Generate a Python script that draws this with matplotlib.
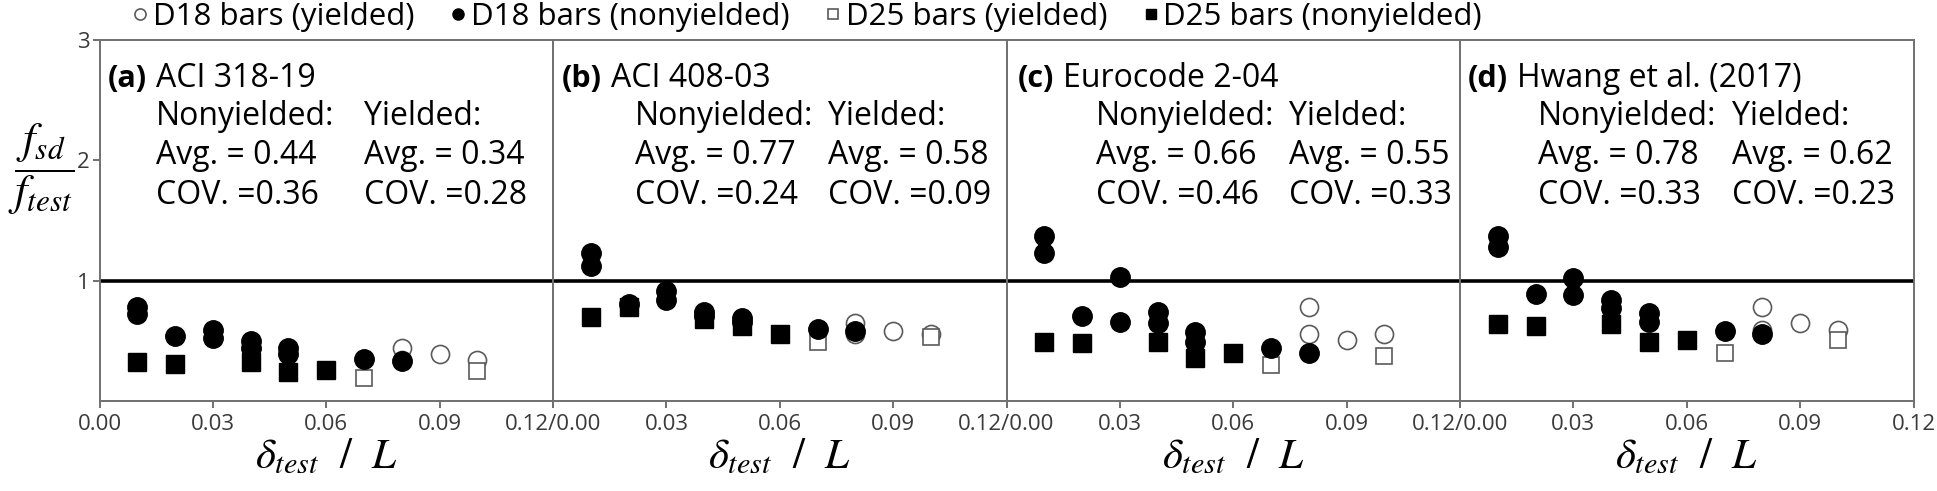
import matplotlib
matplotlib.use("Agg")
import matplotlib.pyplot as plt
from matplotlib.lines import Line2D

plt.rcParams['font.family'] = ['Open Sans', 'DejaVu Sans']
plt.rcParams['mathtext.fontset'] = 'stix'

# panel texts
tags = ['(a)', '(b)', '(c)', '(d)']
codes = ['ACI 318-19', 'ACI 408-03', 'Eurocode 2-04', 'Hwang et al. (2017)']
avg_non = ['0.44', '0.77', '0.66', '0.78']
cov_non = ['0.36', '0.24', '0.46', '0.33']
avg_yld = ['0.34', '0.58', '0.55', '0.62']
cov_yld = ['0.28', '0.09', '0.33', '0.23']

# x positions (drift ratio) of each group, same in every panel
x_d18_non = [0.01, 0.01, 0.02, 0.03, 0.03, 0.04, 0.04, 0.05, 0.05, 0.07, 0.08]
x_d25_non = [0.01, 0.02, 0.04, 0.05, 0.06]
x_d18_yld = [0.08, 0.08, 0.09, 0.10]
x_d25_yld = [0.07, 0.10]

# f_sd / f_test, one list per panel
y_d18_non = [
    [0.78, 0.72, 0.54, 0.59, 0.52, 0.50, 0.44, 0.44, 0.39, 0.35, 0.33],
    [1.23, 1.12, 0.81, 0.91, 0.84, 0.74, 0.71, 0.69, 0.66, 0.60, 0.58],
    [1.37, 1.23, 0.71, 1.03, 0.66, 0.74, 0.65, 0.57, 0.49, 0.44, 0.40],
    [1.37, 1.28, 0.89, 1.02, 0.88, 0.84, 0.77, 0.73, 0.66, 0.58, 0.56],
]
y_d25_non = [
    [0.32, 0.31, 0.32, 0.24, 0.26],
    [0.70, 0.78, 0.68, 0.62, 0.56],
    [0.49, 0.48, 0.49, 0.36, 0.40],
    [0.64, 0.62, 0.64, 0.49, 0.51],
]
y_d18_yld = [
    [0.44, 0.34, 0.39, 0.34],
    [0.65, 0.56, 0.58, 0.56],
    [0.78, 0.56, 0.51, 0.56],
    [0.78, 0.59, 0.65, 0.59],
]
y_d25_yld = [
    [0.19, 0.25],
    [0.49, 0.53],
    [0.30, 0.37],
    [0.40, 0.51],
]

# x of the text columns in axes fraction: tag, code, nonyielded, yielded
text_x = [
    (0.018, 0.124, 0.124, 0.584),
    (0.020, 0.128, 0.180, 0.606),
    (0.025, 0.124, 0.197, 0.622),
    (0.018, 0.126, 0.172, 0.600),
]
# baselines of the four text lines (axes fraction)
line_y = [0.870, 0.765, 0.657, 0.546]

W, H = 1937, 491
fig = plt.figure(figsize=(W / 100, H / 100), dpi=100)

gray = '#707070'
edge = '#5a5a5a'
x0, pw = 99.5, 453.5
fs = 23
axes = []
for i in range(4):
    ax = fig.add_axes([(x0 + i * pw) / W, 90 / H, pw / W, 361 / H])
    axes.append(ax)

    ax.plot(x_d18_yld, y_d18_yld[i], 'o', ms=13, mfc='white', mec=edge, mew=1.2, zorder=3)
    ax.plot(x_d25_yld, y_d25_yld[i], 's', ms=12, mfc='white', mec=edge, mew=1.2, zorder=4)
    ax.plot(x_d18_non, y_d18_non[i], 'o', ms=14, mfc='black', mec='black', zorder=5)
    ax.plot(x_d25_non, y_d25_non[i], 's', ms=12.5, mfc='black', mec='black', zorder=5)

    ax.axhline(1, color='black', lw=2.6, zorder=2)
    ax.set_xlim(0, 0.12)
    ax.set_ylim(0, 3)
    for s in ax.spines.values():
        s.set_color(gray)
        s.set_linewidth(1.4)

    xt = [0, 0.03, 0.06, 0.09, 0.12]
    labs = ['0.00' if i == 0 else '0.12/0.00', '0.03', '0.06', '0.09', '0.12' if i == 3 else '']
    ax.set_xticks(xt)
    ax.set_xticklabels(labs)
    ax.tick_params(axis='x', direction='out', length=5, width=1.4, color=gray,
                   labelsize=16, labelcolor='#3a3a3a', pad=4)
    if i == 0:
        ax.set_yticks([1, 2, 3])
        ax.set_yticklabels(['1', '2', '3'])
        ax.tick_params(axis='y', direction='out', length=5, width=1.4, color=gray,
                       labelsize=16, labelcolor='#3a3a3a', pad=2)
        ax.set_ylabel(r'$\dfrac{f_{sd}}{f_{test}}$', fontsize=32, rotation=0)
        ax.yaxis.set_label_coords(-0.128, 0.51)
    else:
        ax.set_yticks([])
    ax.set_xlabel(r'$\delta_{test}\ \ /\ \ L$', fontsize=31, labelpad=0)

    tx = text_x[i]
    ax.text(tx[0], line_y[0], tags[i], transform=ax.transAxes, fontsize=22, fontweight='bold', va='baseline')
    ax.text(tx[1], line_y[0], codes[i], transform=ax.transAxes, fontsize=fs, va='baseline')
    ax.text(tx[2], line_y[1], 'Nonyielded:', transform=ax.transAxes, fontsize=fs, va='baseline')
    ax.text(tx[3], line_y[1], 'Yielded:', transform=ax.transAxes, fontsize=fs, va='baseline')
    ax.text(tx[2], line_y[2], 'Avg. = ' + avg_non[i], transform=ax.transAxes, fontsize=fs, va='baseline')
    ax.text(tx[3], line_y[2], 'Avg. = ' + avg_yld[i], transform=ax.transAxes, fontsize=fs, va='baseline')
    ax.text(tx[2], line_y[3], 'COV. =' + cov_non[i], transform=ax.transAxes, fontsize=fs, va='baseline')
    ax.text(tx[3], line_y[3], 'COV. =' + cov_yld[i], transform=ax.transAxes, fontsize=fs, va='baseline')

handles = [
    Line2D([], [], ls='', marker='o', ms=8, mfc='white', mec=edge, mew=1.2),
    Line2D([], [], ls='', marker='o', ms=8, mfc='black', mec='black'),
    Line2D([], [], ls='', marker='s', ms=7, mfc='white', mec=edge, mew=1.2),
    Line2D([], [], ls='', marker='s', ms=7, mfc='black', mec='black'),
]
labels = ['D18 bars (yielded)', 'D18 bars (nonyielded)', 'D25 bars (yielded)', 'D25 bars (nonyielded)']
fig.legend(handles, labels, loc='center left', bbox_to_anchor=(131 / W, 1 - 17 / H),
           ncol=4, frameon=False, fontsize=22.5, handlelength=0.6, handletextpad=0.1,
           columnspacing=1.1, borderpad=0, borderaxespad=0)

fig.savefig('out.png', dpi=100)
